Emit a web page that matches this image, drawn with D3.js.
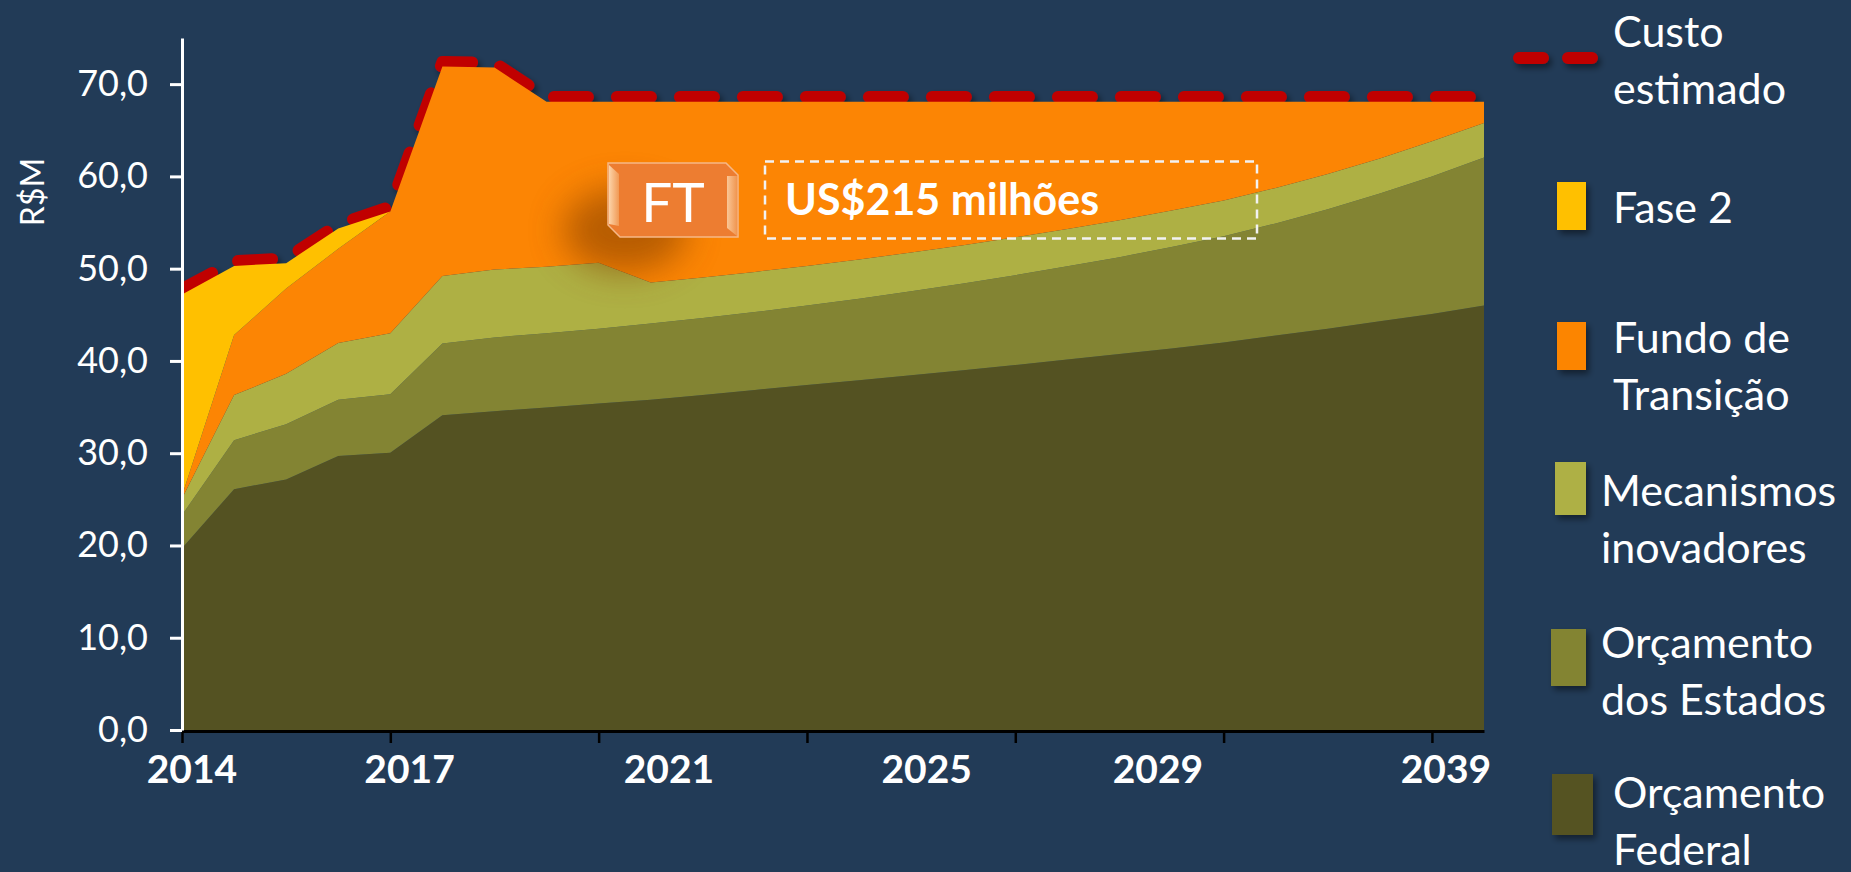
<!DOCTYPE html>
<html>
<head>
<meta charset="utf-8">
<script src="https://cdn.jsdelivr.net/npm/d3@7"></script>
<style>
  html, body { margin: 0; padding: 0; background: #223b57; }
  svg { display: block; }
  text { font-family: Lato, "Open Sans", sans-serif; fill: #fff; }
</style>
</head>
<body>
<svg id="chart" width="1851" height="872"></svg>
<script>
// categories
const years = [2014, 2015, 2016, 2017, 2018, 2019, 2020, 2021, 2022, 2023, 2024, 2025, 2026,
  2027, 2028, 2029, 2030, 2031, 2032, 2033, 2034, 2035, 2036, 2037, 2038, 2039];

// series values (R$M)
const orcamentoFederal = [19.7, 26.1, 27.15, 29.7, 30.05, 34.1, 34.55, 34.95, 35.4, 35.8, 36.3, 36.85, 37.4,
  37.9, 38.45, 39.0, 39.55, 40.15, 40.75, 41.35, 42.0, 42.75, 43.5, 44.3, 45.1, 46.0];
const orcamentoEstados = [3.6, 5.3, 6.0, 6.1, 6.35, 7.8, 8.0, 8.05, 8.1, 8.25, 8.35, 8.45, 8.6,
  8.85, 9.1, 9.4, 9.75, 10.1, 10.5, 11.0, 11.5, 12.15, 12.95, 13.85, 14.9, 16.05];
const mecanismos = [1.8, 4.9, 5.45, 6.15, 6.6, 7.3, 7.35, 7.2, 7.15, 4.45, 4.4, 4.35, 4.3,
  4.25, 4.2, 4.15, 4.1, 4.05, 4.0, 3.95, 3.9, 3.85, 3.8, 3.8, 3.8, 3.75];
const fundoTransicao = [0.3, 6.5, 9.25, 10.2, 13.2, 22.7, 21.9, 17.9, 17.45, 19.6, 19.05, 18.45, 17.8,
  17.1, 16.35, 15.55, 14.7, 13.8, 12.85, 11.8, 10.7, 9.35, 7.85, 6.15, 4.3, 2.3];
const fase2 = [21.8, 7.5, 2.75, 2.2, 0, 0, 0, 0, 0, 0, 0, 0, 0,
  0, 0, 0, 0, 0, 0, 0, 0, 0, 0, 0, 0, 0];
const custoEstimado = [47.8, 50.8, 51.1, 54.8, 56.7, 72.4, 72.3, 68.6, 68.6, 68.6, 68.6, 68.6, 68.6,
  68.6, 68.6, 68.6, 68.6, 68.6, 68.6, 68.6, 68.6, 68.6, 68.6, 68.6, 68.6, 68.6];

// axis labels
const yTicks = [0, 10, 20, 30, 40, 50, 60, 70];
const xTickIndex = [0, 4, 8, 12, 16, 20, 24];
const xLabelYears = ["2014", "2017", "2021", "2025", "2029", "2039"];
const xLabelAt = [0.19, 4.37, 9.35, 14.3, 18.74, 24.27];

const seriesKeys = ["federal", "estados", "mecanismos", "fundo", "fase2"];
const seriesColors = {
  federal: "#545222",
  estados: "#838433",
  mecanismos: "#aeb044",
  fundo: "#fc8504",
  fase2: "#ffc000"
};

const legendNames = [
  ["Custo", "estimado"],
  ["Fase 2"],
  ["Fundo de", "Transição"],
  ["Mecanismos", "inovadores"],
  ["Orçamento", "dos Estados"],
  ["Orçamento", "Federal"]
];
const legendKeys = ["custo", "fase2", "fundo", "mecanismos", "estados", "federal"];

const rows = years.map((yr, i) => ({
  year: yr,
  federal: orcamentoFederal[i],
  estados: orcamentoEstados[i],
  mecanismos: mecanismos[i],
  fundo: fundoTransicao[i],
  fase2: fase2[i]
}));

const svg = d3.select("#chart");
const width = +svg.attr("width");
const height = +svg.attr("height");

const margin = { top: 38, right: 367, bottom: 142, left: 182 };
const innerWidth = width - margin.left - margin.right;
const innerHeight = height - margin.top - margin.bottom;

svg.append("rect").attr("width", width).attr("height", height).attr("fill", "#223b57");

const defs = svg.append("defs");
const shadow = defs.append("filter").attr("id", "shadow")
  .attr("filterUnits", "userSpaceOnUse")
  .attr("x", 0).attr("y", 0).attr("width", width).attr("height", height);
shadow.append("feDropShadow")
  .attr("dx", 3).attr("dy", 4).attr("stdDeviation", 3)
  .attr("flood-color", "#000").attr("flood-opacity", 0.45);

const blur = defs.append("filter").attr("id", "blur")
  .attr("x", "-100%").attr("y", "-100%").attr("width", "300%").attr("height", "300%");
blur.append("feGaussianBlur").attr("stdDeviation", 17);

const bevel = defs.append("linearGradient").attr("id", "bevel")
  .attr("x1", 0).attr("x2", 1).attr("y1", 0).attr("y2", 0);
bevel.append("stop").attr("offset", "0%").attr("stop-color", "#fcd3a8");
bevel.append("stop").attr("offset", "100%").attr("stop-color", "#f19a55");

const g = svg.append("g")
  .attr("transform", `translate(${margin.left},${margin.top})`);

const x = d3.scaleLinear()
  .domain([0, years.length - 1])
  .range([0, innerWidth]);

const y = d3.scaleLinear()
  .domain([0, 75])
  .range([innerHeight, 0]);

// custo estimado line sits behind the areas
const custoLine = d3.line()
  .x((d, i) => x(i))
  .y(d => y(d));

g.append("path")
  .datum(custoEstimado)
  .attr("d", custoLine)
  .attr("fill", "none")
  .attr("stroke", "#c00000")
  .attr("stroke-width", 12)
  .attr("stroke-linecap", "round")
  .attr("stroke-linejoin", "round")
  .attr("stroke-dasharray", "34 29")
  .attr("filter", "url(#shadow)");

const stacked = d3.stack().keys(seriesKeys)(rows);

const area = d3.area()
  .x((d, i) => x(i))
  .y0(d => y(d[0]))
  .y1(d => y(d[1]));

g.selectAll(".layer")
  .data(stacked)
  .enter()
  .append("path")
  .attr("class", "layer")
  .attr("d", area)
  .attr("fill", d => seriesColors[d.key]);

// x axis
const xAxis = g.append("g")
  .attr("transform", `translate(0,${innerHeight + 1})`)
  .call(d3.axisBottom(x).tickValues(xTickIndex).tickSize(12).tickSizeOuter(0).tickFormat(""));
xAxis.select(".domain").attr("stroke", "#000").attr("stroke-width", 3);
xAxis.selectAll(".tick line").attr("stroke", "#000").attr("stroke-width", 2.5);

g.selectAll(".year-label")
  .data(xLabelYears)
  .enter()
  .append("text")
  .attr("class", "year-label")
  .attr("x", (d, i) => x(xLabelAt[i]))
  .attr("y", innerHeight + 53)
  .attr("text-anchor", "middle")
  .style("font-size", "39px")
  .style("font-weight", "bold")
  .text(d => d);

// y axis
const yAxis = g.append("g")
  .call(d3.axisLeft(y)
    .tickValues(yTicks)
    .tickSize(12)
    .tickSizeOuter(0)
    .tickPadding(22)
    .tickFormat(d => d3.format(".1f")(d).replace(".", ",")));
yAxis.select(".domain").attr("stroke", "#fff").attr("stroke-width", 3);
yAxis.selectAll(".tick line").attr("stroke", "#fff").attr("stroke-width", 3);
yAxis.selectAll(".tick text")
  .attr("fill", "#fff")
  .style("font-size", "36px")
  .style("font-family", "Lato, sans-serif");

svg.append("text")
  .attr("transform", "translate(31,192) rotate(-90)")
  .attr("text-anchor", "middle")
  .attr("dominant-baseline", "central")
  .style("font-size", "32px")
  .text("R$M");

// FT annotation
svg.append("ellipse")
  .attr("cx", 625).attr("cy", 230)
  .attr("rx", 62).attr("ry", 42)
  .attr("fill", "#8a4300")
  .attr("opacity", 0.6)
  .attr("filter", "url(#blur)");

svg.append("path")
  .attr("d", "M608,163 H726 L738,175 V237 H620 L608,225 Z")
  .attr("fill", "#ed7d31")
  .attr("stroke", "#f6b887")
  .attr("stroke-width", 1.5);
svg.append("path")
  .attr("d", "M609,165 L619,174 V226 L609,224 Z")
  .attr("fill", "url(#bevel)");
svg.append("path")
  .attr("d", "M727,176 L737,176 V236 L727,228 Z")
  .attr("fill", "url(#bevel)")
  .attr("opacity", 0.85);
svg.append("text")
  .attr("x", 673)
  .attr("y", 201)
  .attr("text-anchor", "middle")
  .attr("dominant-baseline", "central")
  .style("font-size", "55px")
  .text("FT");

svg.append("rect")
  .attr("x", 765).attr("y", 161.5)
  .attr("width", 492).attr("height", 77)
  .attr("fill", "none")
  .attr("stroke", "#f2f2f2")
  .attr("stroke-width", 2.5)
  .attr("stroke-dasharray", "9 6");

svg.append("text")
  .attr("x", 785)
  .attr("y", 215)
  .style("font-size", "43px")
  .style("font-weight", "bold")
  .text("US$215 milhões");

// legend
const legendRows = [
  { sx: 1519, sy: 58, sw: 73, sh: 0, tx: 1613, ty: 47 },
  { sx: 1557, sy: 182, sw: 29, sh: 48, tx: 1613, ty: 223 },
  { sx: 1557, sy: 322, sw: 29, sh: 48, tx: 1613, ty: 353 },
  { sx: 1555, sy: 462, sw: 31, sh: 53, tx: 1601, ty: 506 },
  { sx: 1551, sy: 629, sw: 35, sh: 57, tx: 1601, ty: 658 },
  { sx: 1552, sy: 774, sw: 41, sh: 61, tx: 1613, ty: 808 }
];
const lineHeight = 57;

const legend = svg.append("g").attr("class", "legend");

legendKeys.forEach((key, i) => {
  const L = legendRows[i];
  if (key === "custo") {
    legend.append("line")
      .attr("x1", L.sx).attr("x2", L.sx + L.sw)
      .attr("y1", L.sy).attr("y2", L.sy)
      .attr("stroke", "#c00000")
      .attr("stroke-width", 12)
      .attr("stroke-linecap", "round")
      .attr("stroke-dasharray", "24 25")
      .attr("filter", "url(#shadow)");
  } else {
    legend.append("rect")
      .attr("x", L.sx).attr("y", L.sy)
      .attr("width", L.sw).attr("height", L.sh)
      .attr("fill", seriesColors[key])
      .attr("filter", "url(#shadow)");
  }
  const t = legend.append("text")
    .attr("x", L.tx)
    .attr("y", L.ty)
    .style("font-size", "43px");
  legendNames[i].forEach((line, j) => {
    t.append("tspan")
      .attr("x", L.tx)
      .attr("y", L.ty + j * lineHeight)
      .text(line);
  });
});
</script>
</body>
</html>
